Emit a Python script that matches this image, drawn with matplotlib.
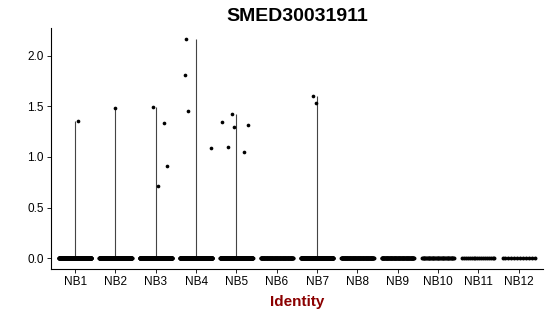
import matplotlib
matplotlib.use("Agg")
import matplotlib.pyplot as plt
import numpy as np

plt.rcParams['font.family'] = ['Liberation Sans', 'DejaVu Sans']

groups = ["NB1", "NB2", "NB3", "NB4", "NB5", "NB6", "NB7", "NB8", "NB9", "NB10", "NB11", "NB12"]
# number of cells with zero expression per identity
zero_counts = [320, 300, 300, 290, 280, 110, 200, 110, 90, 40, 18, 12]
# expression values of the expressing cells, per identity
high_vals = {
    "NB1": [1.35],
    "NB2": [1.48],
    "NB3": [1.49, 1.33, 0.71, 0.91],
    "NB4": [2.16, 1.81, 1.45, 1.09],
    "NB5": [1.34, 1.42, 1.30, 1.31, 1.10, 1.05],
    "NB7": [1.60, 1.53],
}
high_jitter = {
    "NB1": [0.06],
    "NB2": [0.0],
    "NB3": [-0.06, 0.20, 0.06, 0.27],
    "NB4": [-0.25, -0.27, -0.19, 0.36],
    "NB5": [-0.37, -0.11, -0.06, 0.28, -0.20, 0.19],
    "NB7": [-0.09, -0.03],
}

fig = plt.figure(figsize=(5.5, 3.16), dpi=100)
ax = fig.add_axes([0.0927, 0.1487, 0.8943, 0.7623])

for i, g in enumerate(groups):
    x = i + 1
    vals = high_vals.get(g, [])
    # thin violin: all mass at zero, outline runs up to the max
    if vals:
        ax.vlines(x, 0, max(vals), color="#444444", lw=0.8, zorder=1)
    n = zero_counts[i]
    xs = x + np.linspace(-0.4, 0.4, n)
    ax.scatter(xs, np.zeros(n), s=8, color="black", lw=0, zorder=2)
    if vals:
        ax.scatter(x + np.array(high_jitter[g]), vals, s=7, color="black", lw=0, zorder=3)

ax.set_xlim(0.4, 12.6)
ax.set_ylim(-0.105, 2.27)
ax.set_xticks(range(1, len(groups) + 1))
ax.set_xticklabels(groups)
ax.set_yticks([0, 0.5, 1.0, 1.5, 2.0])
ax.set_yticklabels(["0.0", "0.5", "1.0", "1.5", "2.0"])
ax.tick_params(labelsize=8.5, length=3, width=0.6, colors="black", pad=2)
for s in ["top", "right"]:
    ax.spines[s].set_visible(False)
for s in ["left", "bottom"]:
    ax.spines[s].set_linewidth(0.8)

ax.set_title("SMED30031911", fontsize=14, fontweight="bold", pad=5)
ax.set_xlabel("Identity", fontsize=11, fontweight="bold", color="#8B0000", labelpad=5)

fig.savefig("out.png", dpi=100)
